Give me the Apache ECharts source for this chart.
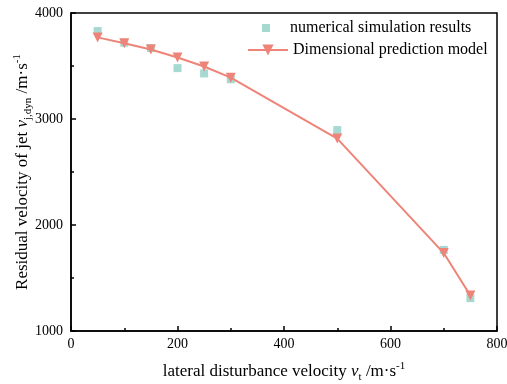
<!DOCTYPE html>
<html>
<head>
<meta charset="utf-8">
<script src="https://cdn.jsdelivr.net/npm/echarts@6/dist/echarts.min.js"></script>
<style>
html, body { margin: 0; padding: 0; background: #fff; }
#chart { width: 507px; height: 384px; }
</style>
</head>
<body>
<div id="chart"></div>
<script>
var velocities = [50, 100, 150, 200, 250, 300, 500, 700, 750];
var simulation = [3830, 3720, 3670, 3480, 3430, 3375, 2895, 1765, 1310];
var model = [3770, 3715, 3655, 3580, 3495, 3390, 2815, 1735, 1335];

var serif = '"Liberation Serif", "Times New Roman", serif';

function pairs(xs, ys) {
	var out = [];
	for (var i = 0; i < xs.length; i++) out.push([xs[i], ys[i]]);
	return out;
}

var nameRich = {
	i: { fontFamily: serif, fontSize: 17, fontStyle: 'italic', color: '#000', lineHeight: 22 },
	sub: { fontFamily: serif, fontSize: 11, color: '#000', verticalAlign: 'bottom', lineHeight: 22 },
	sup: { fontFamily: serif, fontSize: 11, color: '#000', verticalAlign: 'top', lineHeight: 22 }
};

var dom = document.getElementById('chart');
var myChart = echarts.init(dom, null, { renderer: 'canvas' });
var option = {
	animation: false,
	backgroundColor: '#fff',
	grid: {
		left: 71,
		right: 10,
		top: 13,
		bottom: 53,
		outerBoundsMode: 'none',
		containLabel: false,
		show: true,
		borderColor: '#000',
		borderWidth: 1.5,
		backgroundColor: 'transparent'
	},
	legend: [
		{
			data: ['numerical simulation results'],
			left: 257,
			top: 15,
			itemWidth: 8,
			itemHeight: 8,
			textStyle: { fontFamily: serif, fontSize: 16, color: '#000', lineHeight: 16, padding: [0, 0, 0, 15] }
		},
		{
			data: ['Dimensional prediction model'],
			left: 242,
			top: 37,
			itemWidth: 40,
			itemHeight: 14,
			textStyle: { fontFamily: serif, fontSize: 16, color: '#000', lineHeight: 16 }
		}
	],
	xAxis: {
		type: 'value',
		min: 0,
		max: 800,
		interval: 200,
		name: 'lateral disturbance velocity {i|v}{sub|t} /m·s{sup|-1}',
		nameLocation: 'middle',
		nameGap: 30,
		nameMoveOverlap: false,
		nameTextStyle: { fontFamily: serif, fontSize: 17, color: '#000', lineHeight: 22, rich: nameRich },
		axisLine: { lineStyle: { color: '#000', width: 1.5 } },
		axisTick: { inside: true, length: 5, lineStyle: { color: '#000', width: 1.5 } },
		minorTick: { show: true, splitNumber: 2, length: 3, lineStyle: { color: '#000', width: 1.5 } },
		axisLabel: { fontFamily: serif, fontSize: 14, color: '#000', margin: 6, formatter: '{value}' },
		splitLine: { show: false }
	},
	yAxis: {
		type: 'value',
		min: 1000,
		max: 4000,
		interval: 1000,
		name: 'Residual velocity of jet {i|v}{sub|j,dyn} /m·s{sup|-1}',
		nameLocation: 'middle',
		nameRotate: 90,
		nameGap: 37,
		nameMoveOverlap: false,
		nameTextStyle: { fontFamily: serif, fontSize: 17, color: '#000', lineHeight: 22, rich: nameRich },
		axisLine: { lineStyle: { color: '#000', width: 1.5 } },
		axisTick: { inside: true, length: 5, lineStyle: { color: '#000', width: 1.5 } },
		minorTick: { show: true, splitNumber: 2, length: 3, lineStyle: { color: '#000', width: 1.5 } },
		axisLabel: { fontFamily: serif, fontSize: 14, color: '#000', margin: 8, formatter: function (v) { return String(v); } },
		splitLine: { show: false }
	},
	series: [
		{
			name: 'numerical simulation results',
			type: 'scatter',
			symbol: 'rect',
			symbolSize: 8,
			itemStyle: { color: '#8fd0c6' },
			data: pairs(velocities, simulation),
			z: 2
		},
		{
			name: 'Dimensional prediction model',
			type: 'line',
			symbol: 'triangle',
			symbolRotate: 180,
			symbolSize: 10,
			showAllSymbol: true,
			lineStyle: { color: '#ee8478', width: 2 },
			itemStyle: { color: '#ee8478' },
			data: pairs(velocities, model),
			z: 3
		}
	]
};
myChart.setOption(option, true);
</script>
</body>
</html>
